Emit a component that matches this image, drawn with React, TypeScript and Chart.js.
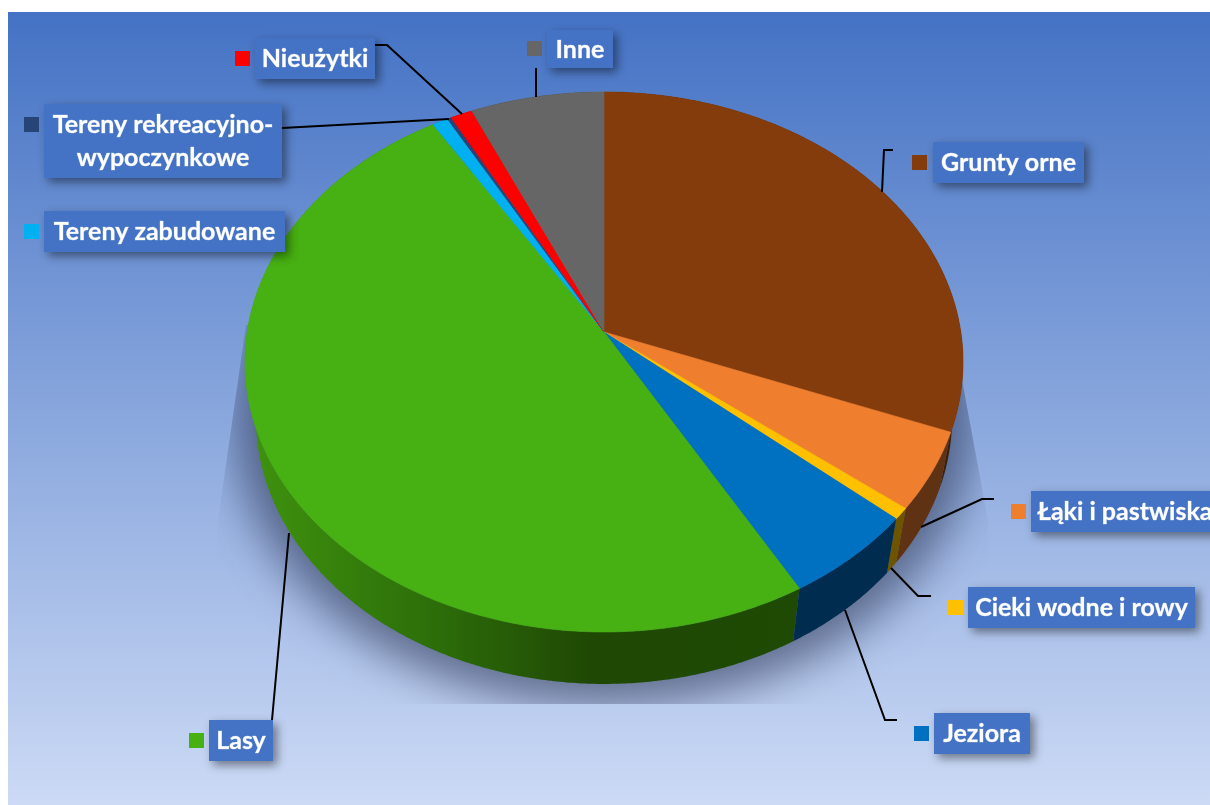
import React, { useEffect, useRef } from "react";
import { Chart, registerables } from "chart.js";

Chart.register(...registerables);

const categories = ["Grunty orne", "Łąki i pastwiska", "Cieki wodne i rowy", "Jeziora", "Lasy", "Tereny zabudowane", "Tereny rekreacyjno-wypoczynkowe", "Nieużytki", "Inne"];
const shares = [30.9, 4.7, 0.7, 5.5, 49.5, 0.8, 0.2, 1.1, 6.7];
const faceColors = ["#843C0C", "#F07E2F", "#FFC000", "#0070C0", "#47B012", "#00B0F0", "#264478", "#FF0000", "#666666"];
const wallColors = ["#3D1E08", "#5E3213", "#6D5500", "#002C4F", "#1F4804", "#005070", "#112040", "#700000", "#303030"];

type Callout = { lines: string[]; box: number[]; marker: number[]; leader: number[][] };
const callouts: Callout[] = [
  { lines: ["Grunty orne"], box: [933, 142, 151, 41], marker: [912, 155], leader: [[882, 192], [884, 150], [893, 150]] },
  { lines: ["Łąki i pastwiska"], box: [1031, 491, 185, 41], marker: [1011, 504], leader: [[921, 527], [982, 499], [994, 499]] },
  { lines: ["Cieki wodne i rowy"], box: [968, 587, 227, 41], marker: [948, 600], leader: [[891, 568], [918, 596], [931, 596]] },
  { lines: ["Jeziora"], box: [934, 713, 96, 41], marker: [914, 726], leader: [[845, 610], [885, 720], [897, 720]] },
  { lines: ["Lasy"], box: [209, 720, 64, 41], marker: [189, 733], leader: [[289, 533], [272, 720]] },
  { lines: ["Tereny zabudowane"], box: [44, 211, 241, 41], marker: [24, 224], leader: [] },
  { lines: ["Tereny rekreacyjno-", "wypoczynkowe"], box: [44, 104, 238, 74], marker: [24, 117], leader: [[282, 128], [449, 119]] },
  { lines: ["Nieużytki"], box: [255, 38, 120, 41], marker: [235, 51], leader: [[375, 45], [387, 45], [462, 114]] },
  { lines: ["Inne"], box: [547, 30, 66, 38], marker: [527, 41], leader: [[536, 68], [536, 97]] },
];

const FONT = 'bold 25px Lato, "Open Sans", sans-serif';
const CX = 604;
const topDisc = { y0: 332, a: 356.8, b: 266.7, k: 0.111 };
const bottomDisc = { y0: 389, a: 346, b: 262.8, k: 0.109 };
type Disc = typeof topDisc;

const project = (d: Disc, angle: number): [number, number] => {
  const u = Math.cos(angle);
  const v = Math.sin(angle);
  const w = 1 - d.k * v;
  return [CX + (d.a * u) / w, d.y0 + (d.b * v) / w];
};

const rimPoints = (d: Disc, start: number, end: number) => {
  const n = Math.max(2, Math.ceil(Math.abs(end - start) / 0.008));
  const out: [number, number][] = [];
  for (let i = 0; i <= n; i++) out.push(project(d, start + ((end - start) * i) / n));
  return out;
};

const tracePath = (ctx: CanvasRenderingContext2D, pts: [number, number][]) => {
  ctx.beginPath();
  pts.forEach((p, i) => (i ? ctx.lineTo(p[0], p[1]) : ctx.moveTo(p[0], p[1])));
  ctx.closePath();
};

const pie3d = {
  id: "pie3d",
  beforeDraw(chart: any) {
    const ctx: CanvasRenderingContext2D = chart.ctx;
    ctx.save();
    const bg = ctx.createLinearGradient(0, 12, 0, 805);
    bg.addColorStop(0, "#4472C4");
    bg.addColorStop(1, "#CCDAF5");
    ctx.fillStyle = bg;
    ctx.fillRect(8, 12, 1202, 793);

    ctx.save();
    ctx.beginPath();
    ctx.moveTo(246, 325);
    ctx.lineTo(218, 520);
    ctx.lineTo(218, 704);
    ctx.lineTo(992, 704);
    ctx.lineTo(988, 520);
    ctx.lineTo(962, 380);
    ctx.lineTo(604, 300);
    ctx.closePath();
    ctx.clip();
    ctx.filter = "blur(22px)";
    ctx.fillStyle = "rgba(45,55,85,0.62)";
    ctx.beginPath();
    ctx.ellipse(CX, 424, 368, 282, 0, 0, Math.PI * 2);
    ctx.fill();
    ctx.restore();
    ctx.restore();
  },
  beforeDatasetsDraw(chart: any) {
    const ctx: CanvasRenderingContext2D = chart.ctx;
    const arcs = chart.getDatasetMeta(0).data as any[];
    ctx.save();
    const order = arcs.map((_, i) => i).sort((p, q) => {
      const mid = (i: number) => Math.sin((arcs[i].startAngle + arcs[i].endAngle) / 2);
      return mid(p) - mid(q);
    });
    const lasyIndex = categories.indexOf("Lasy");
    order.forEach((i) => {
      const arc = arcs[i];
      const upper = rimPoints(topDisc, arc.startAngle, arc.endAngle);
      const lower = rimPoints(bottomDisc, arc.endAngle, arc.startAngle);
      tracePath(ctx, [...upper, ...lower]);
      let fill: any = wallColors[i];
      if (i === lasyIndex) {
        const g = ctx.createLinearGradient(250, 0, 800, 0);
        g.addColorStop(0, "#3F920E");
        g.addColorStop(0.3, "#2E720A");
        g.addColorStop(0.62, "#1F4804");
        g.addColorStop(1, "#1E4A04");
        fill = g;
      }
      ctx.fillStyle = fill;
      ctx.fill();
    });
    arcs.forEach((arc, i) => {
      tracePath(ctx, [[CX, topDisc.y0], ...rimPoints(topDisc, arc.startAngle, arc.endAngle)]);
      ctx.fillStyle = faceColors[i];
      ctx.strokeStyle = faceColors[i];
      ctx.lineWidth = 0.6;
      ctx.fill();
      ctx.stroke();
    });
    ctx.restore();
    return false;
  },
  afterDraw(chart: any) {
    const ctx: CanvasRenderingContext2D = chart.ctx;
    ctx.save();
    ctx.strokeStyle = "#000000";
    ctx.lineWidth = 2;
    callouts.forEach((c) => {
      if (!c.leader.length) return;
      ctx.beginPath();
      c.leader.forEach((p, i) => (i ? ctx.lineTo(p[0], p[1]) : ctx.moveTo(p[0], p[1])));
      ctx.stroke();
    });
    callouts.forEach((c, i) => {
      const [x, y, w, h] = c.box;
      ctx.save();
      ctx.shadowColor = "rgba(0,0,0,0.45)";
      ctx.shadowBlur = 9;
      ctx.shadowOffsetX = 4;
      ctx.shadowOffsetY = 4;
      ctx.fillStyle = "#4472C4";
      ctx.fillRect(x, y, w, h);
      ctx.restore();
      ctx.fillStyle = faceColors[i];
      ctx.fillRect(c.marker[0], c.marker[1], 15, 15);
      ctx.fillStyle = "#FFFFFF";
      ctx.strokeStyle = "rgba(255,255,255,0.55)";
      ctx.lineWidth = 0.5;
      ctx.font = FONT;
      ctx.textAlign = "center";
      ctx.textBaseline = "middle";
      const lh = 33;
      c.lines.forEach((line, k) => {
        const ty = y + h / 2 + 0.5 + (k - (c.lines.length - 1) / 2) * lh;
        const textCx = c.lines[0] === "Łąki i pastwiska" ? x + 94 : x + w / 2;
        ctx.fillText(line, textCx, ty);
        ctx.strokeText(line, textCx, ty);
      });
    });
    ctx.restore();
  },
};

export default function App() {
  const ref = useRef<HTMLCanvasElement>(null);
  useEffect(() => {
    const chart = new Chart(ref.current as HTMLCanvasElement, {
      type: "pie",
      data: {
        labels: categories,
        datasets: [{ data: shares, backgroundColor: faceColors, borderWidth: 0 }],
      },
      options: {
        animation: false,
        responsive: false,
        devicePixelRatio: 1,
        plugins: { legend: { display: false }, tooltip: { enabled: false } },
      },
      plugins: [pie3d],
    } as any);
    return () => chart.destroy();
  }, []);
  return (
    <div style={{ position: "absolute", left: 0, top: 0, width: 1210, height: 805, overflow: "hidden", background: "#fff" }}>
      <canvas ref={ref} width={1210} height={805} style={{ display: "block" }} />
    </div>
  );
}
